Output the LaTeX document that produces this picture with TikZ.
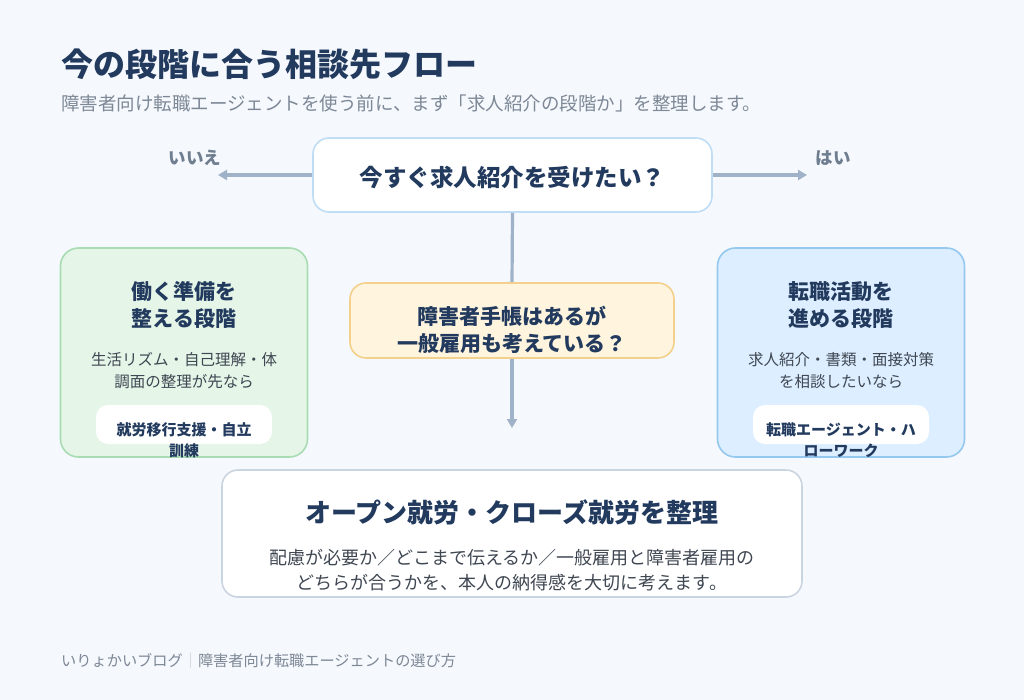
\documentclass[tikz,border=0pt]{standalone}
\usepackage{fontspec}
\setmainfont{Noto Sans CJK JP}
\usetikzlibrary{arrows.meta}
\definecolor{bgc}{HTML}{F5F8FC}
\definecolor{navy}{HTML}{223A5E}
\definecolor{subgray}{HTML}{7D8896}
\definecolor{bodygray}{HTML}{3F4752}
\definecolor{arrc}{HTML}{9FB2C7}
\definecolor{qborder}{HTML}{BFDDF5}
\definecolor{yfill}{HTML}{FFF4DE}
\definecolor{yborder}{HTML}{F3D08C}
\definecolor{gfill}{HTML}{E5F5E8}
\definecolor{gborder}{HTML}{A9DCB3}
\definecolor{bfill}{HTML}{DCEEFF}
\definecolor{bborder}{HTML}{95C8EE}
\definecolor{wborder}{HTML}{CBD5E1}
\definecolor{sepc}{HTML}{C5CDD6}
\definecolor{labc}{HTML}{6E7D8F}
\begin{document}
\begin{tikzpicture}[x=1pt,y=-1pt,
  box/.style={rounded corners=16pt, line width=1.6pt, inner sep=0pt},
  pill/.style={rounded corners=12pt, fill=white, inner sep=0pt, minimum width=176pt, minimum height=39pt},
  arr/.style={draw=arrc, line width=3.2pt, -{Triangle[length=9pt,width=10pt]}},
  ttl/.style={text=navy, font=\bfseries\fontsize{21}{27}\selectfont, align=center, inner sep=0pt},
  bodyt/.style={text=bodygray, font=\fontsize{15.5}{22.5}\selectfont, align=center, inner sep=0pt},
  pillt/.style={text=navy, font=\bfseries\fontsize{15}{21}\selectfont, align=center, inner sep=0pt},
  lab/.style={text=labc, font=\bfseries\fontsize{17.5}{20}\selectfont, inner sep=0pt}]
\fill[bgc] (0,0) rectangle (1024,700);
\useasboundingbox (0,0) rectangle (1024,700);

% title
\node[anchor=west, text=navy, font=\bfseries\fontsize{32}{36}\selectfont, inner sep=0pt] (title) at (61,64) {今の段階に合う相談先フロー};
\node[anchor=west, text=subgray, font=\fontsize{18.5}{22}\selectfont, inner sep=0pt] (sub) at (61,103) {障害者向け転職エージェントを使う前に、まず「求人紹介の段階か」を整理します。};

% question 1
\node[box, draw=qborder, fill=white, minimum width=399pt, minimum height=74pt] (q1) at (512.5,175) {};
\node[text=navy, font=\bfseries\fontsize{23.5}{28}\selectfont, inner sep=0pt] (q1t) at (512.5,177) {今すぐ求人紹介を受けたい？};

% side arrows
\coordinate (nend) at (218,175);
\coordinate (yend) at (807,175);
\draw[arr] (q1.west) -- (nend);
\draw[arr] (q1.east) -- (yend);
\node[lab] (no) at (195,158) {いいえ};
\node[lab] (yes) at (833,158) {はい};

% question 2 (arrow drawn first, box on top hides its tip)
\coordinate (q2c) at (512,320.5);
\coordinate (q2top) at (512,283);
\draw[arr, shorten >=-8pt] (q1.south) -- (q2top);
\node[box, draw=yborder, fill=yfill, minimum width=324pt, minimum height=75pt] (q2) at (q2c) {};
\node[ttl] (q2t) at (512,330) {障害者手帳はあるが\\一般雇用も考えている？};
\coordinate (dend) at (512,428);
\draw[arr] (q2.south) -- (dend);

% left box
\node[box, rounded corners=18pt, draw=gborder, fill=gfill, minimum width=247pt, minimum height=209pt] (lb) at (184,352.5) {};
\node[ttl] (lbt) at (184,305) {働く準備を\\整える段階};
\node[bodyt] (lbb) at (184,370.5) {生活リズム・自己理解・体\\調面の整理が先なら};
\node[pill] (lp) at (184,424.5) {};
\node[pillt] (lpt) at (184,440) {就労移行支援・自立\\訓練};

% right box
\node[box, rounded corners=18pt, draw=bborder, fill=bfill, minimum width=247pt, minimum height=209pt] (rb) at (841,352.5) {};
\node[ttl] (rbt) at (841,305) {転職活動を\\進める段階};
\node[bodyt] (rbb) at (841,370.5) {求人紹介・書類・面接対策\\を相談したいなら};
\node[pill] (rp) at (841,424.5) {};
\node[pillt] (rpt) at (841,440) {転職エージェント・ハ\\ローワーク};

% bottom box
\node[box, draw=wborder, fill=white, minimum width=580pt, minimum height=127pt] (bb) at (512,533.5) {};
\node[text=navy, font=\bfseries\fontsize{26}{30}\selectfont, inner sep=0pt] (bbt) at (512,512) {オープン就労・クローズ就労を整理};
\node[text=bodygray, font=\fontsize{18}{25}\selectfont, align=center, inner sep=0pt] (bbb) at (512,570) {配慮が必要か／どこまで伝えるか／一般雇用と障害者雇用の\\どちらが合うかを、本人の納得感を大切に考えます。};

% footer
\node[anchor=west, text=subgray, font=\fontsize{15.2}{18}\selectfont, inner sep=0pt] (foot) at (61,661) {いりょかいブログ\textcolor{sepc}{｜}障害者向け転職エージェントの選び方};
\end{tikzpicture}
\end{document}
